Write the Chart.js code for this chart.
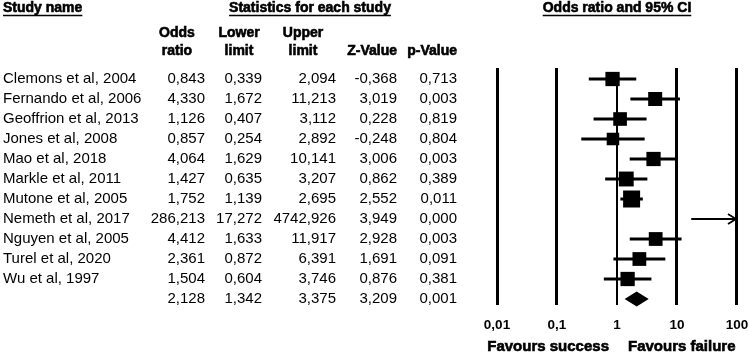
<!DOCTYPE html>
<html><head><meta charset="utf-8">
<script src="https://cdn.jsdelivr.net/npm/chart.js@4/dist/chart.umd.min.js"></script>
<style>html,body{margin:0;padding:0;background:#fff;}#wrap{width:749px;height:354px;position:relative;}</style>
</head><body><div id="wrap"><canvas id="c" width="749" height="354"></canvas></div>
<script>
// ---------- data ----------
const studies = ['Clemons et al, 2004','Fernando et al, 2006','Geoffrion et al, 2013','Jones et al, 2008','Mao et al, 2018','Markle et al, 2011','Mutone et al, 2005','Nemeth et al, 2017','Nguyen et al, 2005','Turel et al, 2020','Wu et al, 1997'];
const oddsRatio  = [0.843, 4.330, 1.126, 0.857, 4.064, 1.427, 1.752, 286.213, 4.412, 2.361, 1.504];
const lowerLimit = [0.339, 1.672, 0.407, 0.254, 1.629, 0.635, 1.139, 17.272, 1.633, 0.872, 0.604];
const upperLimit = [2.094, 11.213, 3.112, 2.892, 10.141, 3.207, 2.695, 4742.926, 11.917, 6.391, 3.746];
const zValue     = [-0.368, 3.019, 0.228, -0.248, 3.006, 0.862, 2.552, 3.949, 2.928, 1.691, 0.876];
const pValue     = [0.713, 0.003, 0.819, 0.804, 0.003, 0.389, 0.011, 0.000, 0.003, 0.091, 0.381];
const summaryOR = 2.128, summaryLower = 1.342, summaryUpper = 3.375, summaryZ = 3.209, summaryP = 0.001;
const xTicks = [0.01, 0.1, 1, 10, 100];
const xTickLabels = ['0,01', '0,1', '1', '10', '100'];

// ---------- helpers ----------
const FONT = "'Liberation Sans', Arial, sans-serif";
const fmt = v => v.toFixed(3).replace('.', ',');
const X_MIN = xTicks[0], X_MAX = xTicks[xTicks.length - 1];
const summaryRow = studies.length;

// random-effects (DerSimonian-Laird) weights -> box sizes
const se = studies.map((_, i) => (Math.log(upperLimit[i]) - Math.log(lowerLimit[i])) / (2 * 1.96));
const wF = se.map(s => 1 / (s * s));
const yi = oddsRatio.map(Math.log);
const W = wF.reduce((a, b) => a + b, 0);
const ybar = wF.reduce((a, w, i) => a + w * yi[i], 0) / W;
const Q = wF.reduce((a, w, i) => a + w * (yi[i] - ybar) ** 2, 0);
const C = W - wF.reduce((a, w) => a + w * w, 0) / W;
const tau2 = Math.max(0, (Q - (studies.length - 1)) / C);
const wR = se.map(s => 1 / (s * s + tau2));
const wMax = Math.max(...wR);
const MAX_SIDE = 17;
const boxSide = wR.map(w => MAX_SIDE * Math.sqrt(w / wMax));

// ---------- datasets ----------
const whiskers = studies.map((_, i) => ({
  type: 'line',
  data: [{x: lowerLimit[i], y: i}, {x: Math.min(upperLimit[i], X_MAX), y: i}],
  borderColor: '#000', borderWidth: upperLimit[i] > X_MAX ? 2 : 3,
  pointRadius: 0, fill: false, order: 2
}));
const boxes = {
  type: 'scatter',
  data: studies.map((_, i) => ({x: oddsRatio[i], y: i})),
  pointStyle: 'rect',
  pointRadius: studies.map((_, i) => oddsRatio[i] > X_MAX ? 0 : boxSide[i] / Math.SQRT2),
  pointHoverRadius: 0,
  backgroundColor: '#000', borderColor: '#000', borderWidth: 0, order: 1
};

const forestPlugin = {
  id: 'forest',
  beforeDatasetsDraw(chart) {
    const {ctx, chartArea, scales: {x, y}} = chart;
    ctx.save();
    ctx.strokeStyle = '#000'; ctx.lineWidth = 2;
    const px = Math.round(x.getPixelForValue(1));
    ctx.beginPath(); ctx.moveTo(px, y.getPixelForValue(0)); ctx.lineTo(px, chartArea.bottom); ctx.stroke();
    ctx.restore();
  },
  afterDatasetsDraw(chart) {
    const {ctx, scales: {x, y}} = chart;
    ctx.save();
    studies.forEach((_, i) => {
      if (upperLimit[i] > X_MAX) {
        const ax = x.getPixelForValue(X_MAX) - 1, ay = y.getPixelForValue(i);
        ctx.strokeStyle = '#000'; ctx.lineWidth = 1.8;
        ctx.beginPath();
        ctx.moveTo(ax - 8, ay - 5); ctx.lineTo(ax, ay); ctx.lineTo(ax - 8, ay + 5);
        ctx.stroke();
      }
    });
    const cy = y.getPixelForValue(summaryRow), h = 7.5;
    ctx.fillStyle = '#000';
    ctx.beginPath();
    ctx.moveTo(x.getPixelForValue(summaryLower), cy);
    ctx.lineTo(x.getPixelForValue(summaryOR), cy - h);
    ctx.lineTo(x.getPixelForValue(summaryUpper), cy);
    ctx.lineTo(x.getPixelForValue(summaryOR), cy + h);
    ctx.closePath(); ctx.fill();
    ctx.restore();
  },
  afterDraw(chart) {
    const {ctx, scales: {x, y}} = chart;
    ctx.save();
    ctx.fillStyle = '#000'; ctx.strokeStyle = '#000';
    ctx.textBaseline = 'middle';
    const text = (t, px, py, align, bold, size, underline) => {
      ctx.font = (bold ? 'bold ' : '') + size + 'px ' + FONT;
      ctx.textAlign = align;
      ctx.fillText(t, px, py);
      if (bold) { ctx.lineWidth = 0.6; ctx.strokeText(t, px, py); }
      if (underline) {
        const w = ctx.measureText(t).width;
        const left = align === 'left' ? px : align === 'center' ? px - w / 2 : px - w;
        ctx.lineWidth = 1.6;
        ctx.beginPath(); ctx.moveTo(left, py + 7.5); ctx.lineTo(left + w, py + 7.5); ctx.stroke();
      }
    };
    text('Study name', 3, 8, 'left', true, 14, true);
    text('Statistics for each study', 310, 8, 'center', true, 14, true);
    text('Odds ratio and 95% CI', x.getPixelForValue(1), 8, 'center', true, 14, true);
    text('Odds', 177, 33, 'center', true, 14); text('ratio', 177, 51, 'center', true, 14);
    text('Lower', 239, 33, 'center', true, 14); text('limit', 239, 51, 'center', true, 14);
    text('Upper', 303, 33, 'center', true, 14); text('limit', 303, 51, 'center', true, 14);
    text('Z-Value', 397, 51, 'right', true, 14);
    text('p-Value', 457, 51, 'right', true, 14);
    const cols = [205, 262, 336, 397, 457];
    studies.forEach((s, i) => {
      const py = y.getPixelForValue(i);
      text(s, 3, py, 'left', false, 15);
      [oddsRatio[i], lowerLimit[i], upperLimit[i], zValue[i], pValue[i]].forEach((v, k) => text(fmt(v), cols[k], py, 'right', false, 15));
    });
    const sy = y.getPixelForValue(summaryRow);
    [summaryOR, summaryLower, summaryUpper, summaryZ, summaryP].forEach((v, k) => text(fmt(v), cols[k], sy, 'right', false, 15));
    const x1 = x.getPixelForValue(1);
    text('Favours success', x1 - 8, 347, 'right', true, 15);
    text('Favours failure', x1 + 11, 347, 'left', true, 15);
    ctx.restore();
  }
};

new Chart(document.getElementById('c'), {
  data: { datasets: [...whiskers, boxes] },
  options: {
    responsive: false, animation: false, devicePixelRatio: 1,
    layout: { padding: { left: 497, right: 12, top: 68, bottom: 0 } },
    plugins: { legend: { display: false }, tooltip: { enabled: false } },
    scales: {
      x: {
        type: 'logarithmic', min: X_MIN, max: X_MAX, position: 'bottom',
        afterBuildTicks: s => { s.ticks = xTicks.map(v => ({ value: v })); },
        afterFit: s => { s.height = 49; },
        ticks: {
          autoSkip: false, maxRotation: 0, padding: 0, color: '#000',
          font: { family: FONT, size: 13.5, weight: 'bold' },
          callback: v => xTickLabels[xTicks.indexOf(v)]
        },
        grid: {
          color: '#000', drawTicks: true, tickLength: 12, tickColor: 'rgba(0,0,0,0)',
          lineWidth: c => (c.tick && c.tick.value === 1) ? 0 : 3
        },
        border: { display: false }
      },
      y: { type: 'linear', reverse: true, min: -0.55, max: 11.3, display: false }
    }
  },
  plugins: [forestPlugin]
});
</script></body></html>
